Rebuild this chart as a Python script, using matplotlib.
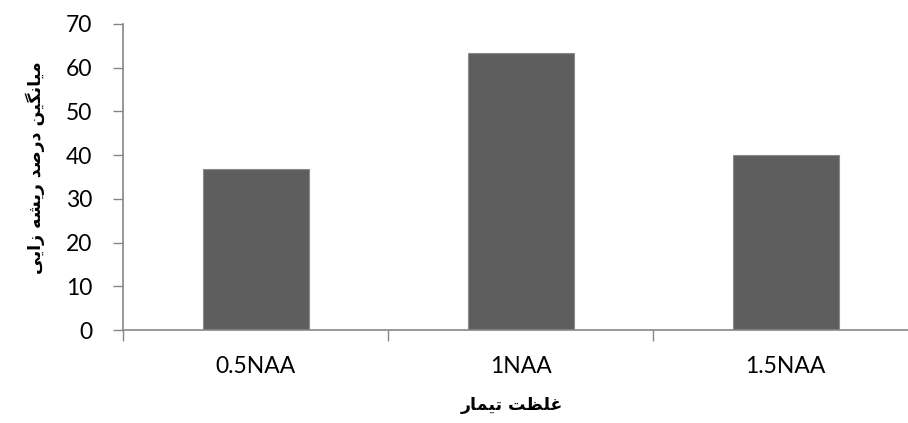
import matplotlib.pyplot as plt
import numpy as np

plt.rcParams['font.family'] = ['Lato', 'DejaVu Sans']

# Data
categories = ['0.5NAA', '1NAA', '1.5NAA']
rooting = [36.8, 63.4, 40.0]
y_ticks = [0, 10, 20, 30, 40, 50, 60, 70]
x_title = 'غلظت تیمار'
y_title = 'میانگین درصد ریشه زایی'

# minimal Persian shaping (matplotlib has no bidi / joining support)
FORMS = {
    'ا': ('\uFE8D', '\uFE8E', None, None),
    'ت': ('\uFE95', '\uFE96', '\uFE97', '\uFE98'),
    'ن': ('\uFEE5', '\uFEE6', '\uFEE7', '\uFEE8'),
    'م': ('\uFEE1', '\uFEE2', '\uFEE3', '\uFEE4'),
    'ل': ('\uFEDD', '\uFEDE', '\uFEDF', '\uFEE0'),
    'غ': ('\uFECD', '\uFECE', '\uFECF', '\uFED0'),
    'ظ': ('\uFEC5', '\uFEC6', '\uFEC7', '\uFEC8'),
    'ص': ('\uFEB9', '\uFEBA', '\uFEBB', '\uFEBC'),
    'ش': ('\uFEB5', '\uFEB6', '\uFEB7', '\uFEB8'),
    'ه': ('\uFEE9', '\uFEEA', '\uFEEB', '\uFEEC'),
    'د': ('\uFEA9', '\uFEAA', None, None),
    'ر': ('\uFEAD', '\uFEAE', None, None),
    'ز': ('\uFEAF', '\uFEB0', None, None),
    'ی': ('\uFBFC', '\uFBFD', '\uFBFE', '\uFBFF'),
    'گ': ('\uFB92', '\uFB93', '\uFB94', '\uFB95'),
}


def shape(text):
    out = []
    for i, ch in enumerate(text):
        if ch not in FORMS:
            out.append(ch)
            continue
        prev = text[i - 1] if i > 0 else ''
        nxt = text[i + 1] if i + 1 < len(text) else ''
        join_prev = prev in FORMS and FORMS[prev][2] is not None
        join_next = FORMS[ch][2] is not None and nxt in FORMS
        iso, fin, ini, med = FORMS[ch]
        if join_prev and join_next:
            out.append(med)
        elif join_prev:
            out.append(fin)
        elif join_next:
            out.append(ini)
        else:
            out.append(iso)
    return ''.join(reversed(out))


fig = plt.figure(figsize=(9.08, 4.23), dpi=100)
ax = fig.add_axes([123 / 908, 93 / 423, 795 / 908, 306 / 423])

x = np.arange(len(categories))
ax.bar(x, rooting, width=0.4, color='#5e5e5e', edgecolor='#8c8c8c', linewidth=0.8)

ax.set_xlim(-0.5, len(categories) - 0.5)
ax.set_ylim(0, 70)
ax.set_yticks(y_ticks)
ax.set_xticks(x)
ax.set_xticklabels(categories, fontsize=16.5)
ax.set_xticks(np.arange(len(categories) + 1) - 0.5, minor=True)
ax.tick_params(axis='x', which='major', length=0, pad=19)
ax.tick_params(axis='x', which='minor', length=8, color='#868686', width=1)
ax.tick_params(axis='y', labelsize=16.5, length=7, color='#868686', width=1, pad=15)

for side in ['top', 'right']:
    ax.spines[side].set_visible(False)
for side in ['left', 'bottom']:
    ax.spines[side].set_color('#868686')
    ax.spines[side].set_linewidth(1.2)

fig.text(512 / 908, 1 - 405 / 423, shape(x_title), ha='center', va='center',
         fontsize=12.5, fontweight='bold', family='DejaVu Sans')
fig.text(35 / 908, 1 - 168 / 423, shape(y_title), ha='center', va='center',
         rotation=90, fontsize=12.5, fontweight='bold', family='DejaVu Sans')

plt.savefig('out.png', dpi=100)
